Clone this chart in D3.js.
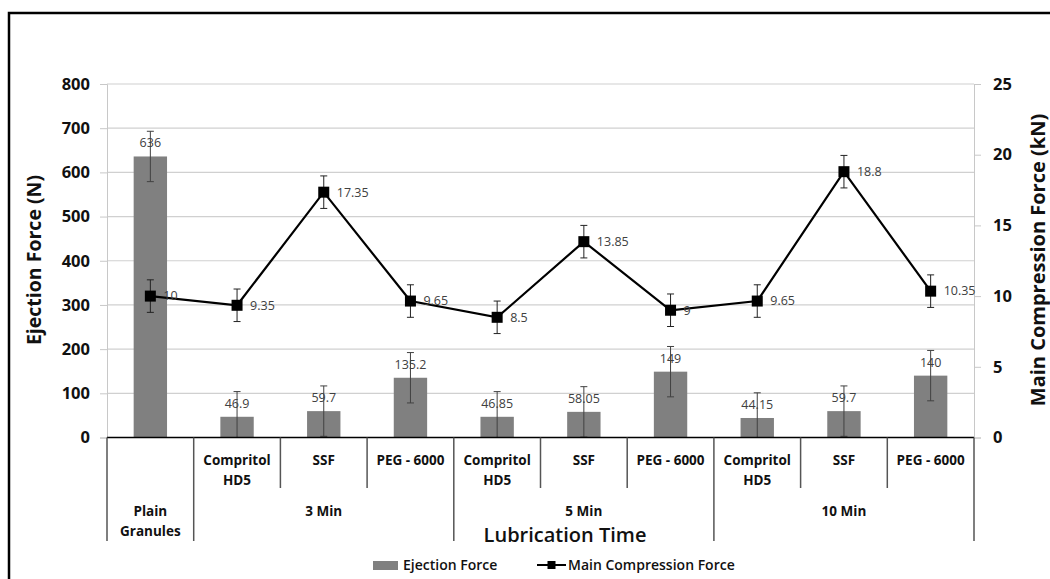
<!DOCTYPE html>
<html><head><meta charset="utf-8">
<script src="https://cdn.jsdelivr.net/npm/d3@7/dist/d3.min.js"></script>
<style>html,body{margin:0;padding:0;background:#fff;}svg{display:block;font-family:"Open Sans",sans-serif;}</style>
</head><body><svg id="c" width="1050" height="579"></svg>
<script>
const categories = ["Plain Granules","Compritol HD5","SSF","PEG - 6000","Compritol HD5","SSF","PEG - 6000","Compritol HD5","SSF","PEG - 6000"];
const groups = [
  {label:"", start:0, end:1},
  {label:"3 Min", start:1, end:4},
  {label:"5 Min", start:4, end:7},
  {label:"10 Min", start:7, end:10}
];
const ejectionForce = [636, 46.9, 59.7, 135.2, 46.85, 58.05, 149, 44.15, 59.7, 140];
const ejectionErr = [57, 57, 57, 57, 57, 57, 57, 57, 57, 57];
const compressionForce = [10, 9.35, 17.35, 9.65, 8.5, 13.85, 9, 9.65, 18.8, 10.35];
const compressionErr = [1.15, 1.15, 1.15, 1.15, 1.15, 1.15, 1.15, 1.15, 1.15, 1.15];
const leftTicks = [0,100,200,300,400,500,600,700,800];
const rightTicks = [0,5,10,15,20,25];

const svg = d3.select("#c");
const L = 107, R = 974, T = 84, B = 437.5;
const ink = "#111";

// outer border
svg.append("path").attr("d","M9,579 V13 H1050").attr("fill","none").attr("stroke","#000").attr("stroke-width",2.5);

const x = d3.scaleBand().domain(d3.range(categories.length)).range([L,R]).padding(0);
const y = d3.scaleLinear().domain([0,800]).range([B,T]);
const y2 = d3.scaleLinear().domain([0,25]).range([B,T]);
const cx = i => x(i) + x.bandwidth()/2;
const bw = x.bandwidth()*0.385;

// gridlines
svg.append("g").selectAll("line").data(leftTicks.filter(d=>d>0)).join("line")
  .attr("x1",L).attr("x2",R).attr("y1",d=>y(d)).attr("y2",d=>y(d))
  .attr("stroke","#d0d0d0").attr("stroke-width",1.2);

// left axis
const gl = svg.append("g").attr("transform",`translate(${L},0)`)
  .call(d3.axisLeft(y).tickValues(leftTicks).tickSize(7).tickPadding(10));
gl.select(".domain").attr("stroke","#c8c8c8");
gl.selectAll(".tick line").attr("stroke","#c8c8c8");
gl.selectAll(".tick text").attr("font-family","Open Sans").attr("font-weight","bold").attr("font-size",16.5).attr("fill",ink);

// right axis
const gr = svg.append("g").attr("transform",`translate(${R},0)`)
  .call(d3.axisRight(y2).tickValues(rightTicks).tickSize(7).tickPadding(12));
gr.select(".domain").attr("stroke","#c8c8c8");
gr.selectAll(".tick line").attr("stroke","#c8c8c8");
gr.selectAll(".tick text").attr("font-family","Open Sans").attr("font-weight","bold").attr("font-size",16.5).attr("fill",ink);

// axis titles
svg.append("text").attr("transform","translate(41,260) rotate(-90)").attr("text-anchor","middle")
  .attr("font-weight","bold").attr("font-size",19.5).attr("fill",ink).text("Ejection Force (N)");
svg.append("text").attr("transform","translate(1045,260) rotate(-90)").attr("text-anchor","middle")
  .attr("font-weight","bold").attr("font-size",20).attr("fill",ink).text("Main Compression Force (kN)");

// bars
svg.append("g").selectAll("rect").data(ejectionForce).join("rect")
  .attr("x",(d,i)=>cx(i)-bw/2).attr("width",bw)
  .attr("y",d=>y(d)).attr("height",d=>B-y(d)).attr("fill","#808080");

// bar error bars
const be = svg.append("g").attr("stroke","#404040").attr("stroke-width",1);
ejectionForce.forEach((d,i)=>{
  const hi = y(d+ejectionErr[i]), lo = y(Math.max(0,d-ejectionErr[i]));
  be.append("line").attr("x1",cx(i)).attr("x2",cx(i)).attr("y1",hi).attr("y2",lo);
  be.append("line").attr("x1",cx(i)-3.5).attr("x2",cx(i)+3.5).attr("y1",hi).attr("y2",hi);
  if (d-ejectionErr[i] > 0) be.append("line").attr("x1",cx(i)-3.5).attr("x2",cx(i)+3.5).attr("y1",lo).attr("y2",lo);
});

// bar labels
svg.append("g").selectAll("text").data(ejectionForce).join("text")
  .attr("x",(d,i)=>cx(i)).attr("y",d=>y(d)-9).attr("text-anchor","middle")
  .attr("font-size",12.5).attr("fill","#404040").text(d=>d);

// line
const line = d3.line().x((d,i)=>cx(i)).y(d=>y2(d));
svg.append("path").datum(compressionForce).attr("d",line).attr("fill","none").attr("stroke","#000").attr("stroke-width",2.2);

// line error bars
const le = svg.append("g").attr("stroke","#222").attr("stroke-width",1);
compressionForce.forEach((d,i)=>{
  const hi = y2(d+compressionErr[i]), lo = y2(d-compressionErr[i]);
  le.append("line").attr("x1",cx(i)).attr("x2",cx(i)).attr("y1",hi).attr("y2",lo);
  le.append("line").attr("x1",cx(i)-3.5).attr("x2",cx(i)+3.5).attr("y1",hi).attr("y2",hi);
  le.append("line").attr("x1",cx(i)-3.5).attr("x2",cx(i)+3.5).attr("y1",lo).attr("y2",lo);
});

// markers
svg.append("g").selectAll("rect").data(compressionForce).join("rect")
  .attr("x",(d,i)=>cx(i)-5.5).attr("y",d=>y2(d)-5.5).attr("width",11).attr("height",11).attr("fill","#000");

// line labels
svg.append("g").selectAll("text").data(compressionForce).join("text")
  .attr("x",(d,i)=>cx(i)+13).attr("y",d=>y2(d)+1).attr("dominant-baseline","middle")
  .attr("font-size",12.5).attr("fill","#404040").text(d=>d);

// category table
const tb = svg.append("g");
tb.append("line").attr("x1",L).attr("x2",R).attr("y1",B).attr("y2",B).attr("stroke","#000").attr("stroke-width",1.5);
const boundaries = d3.range(categories.length+1);
const groupEdges = new Set(groups.flatMap(g=>[g.start,g.end]));
boundaries.forEach(b=>{
  const xx = b===categories.length ? R : x(b);
  tb.append("line").attr("x1",xx).attr("x2",xx).attr("y1",B).attr("y2",groupEdges.has(b)?541:488)
    .attr("stroke","#555").attr("stroke-width",1.5);
});
const catFont = 13.5;
categories.forEach((c,i)=>{
  const g = groups.find(g=>i>=g.start && i<g.end);
  if (g.label==="") {
    const words = c.split(" ");
    words.forEach((w,k)=>tb.append("text").attr("x",cx(i)).attr("y",516+k*20).attr("text-anchor","middle")
      .attr("font-weight","bold").attr("font-size",catFont).attr("fill",ink).text(w));
  } else {
    const parts = c.startsWith("Compritol") ? ["Compritol","HD5"] : [c];
    parts.forEach((w,k)=>tb.append("text").attr("x",cx(i)).attr("y",465+k*20).attr("text-anchor","middle")
      .attr("font-weight","bold").attr("font-size",catFont).attr("fill",ink).text(w));
  }
});
groups.filter(g=>g.label).forEach(g=>{
  const gx = (x(g.start) + (g.end===categories.length?R:x(g.end)))/2;
  tb.append("text").attr("x",gx).attr("y",516).attr("text-anchor","middle")
    .attr("font-weight","bold").attr("font-size",catFont).attr("fill",ink).text(g.label);
});
svg.append("text").attr("x",565).attr("y",542).attr("text-anchor","middle")
  .attr("font-weight","600").attr("font-size",20).attr("fill",ink).text("Lubrication Time");

// legend
const lg = svg.append("g");
lg.append("rect").attr("x",373).attr("y",561).attr("width",25).attr("height",9).attr("fill","#808080");
lg.append("text").attr("x",403).attr("y",570).attr("font-weight","600").attr("font-size",14).attr("fill",ink).text("Ejection Force");
lg.append("line").attr("x1",537).attr("x2",566).attr("y1",565).attr("y2",565).attr("stroke","#000").attr("stroke-width",2);
lg.append("rect").attr("x",547.5).attr("y",561).attr("width",8).attr("height",8).attr("fill","#000");
lg.append("text").attr("x",568).attr("y",570).attr("font-weight","600").attr("font-size",14).attr("fill",ink).text("Main Compression Force");
</script></body></html>
